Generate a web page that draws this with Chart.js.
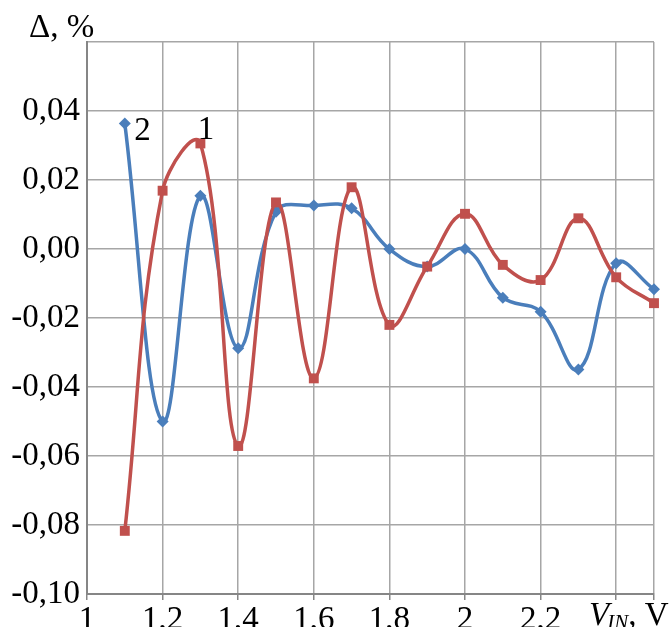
<!DOCTYPE html>
<html>
<head>
<meta charset="utf-8">
<script src="https://cdn.jsdelivr.net/npm/chart.js@4/dist/chart.umd.min.js"></script>
<style>
    html, body { margin: 0; padding: 0; background: #fff; }
    #wrap { width: 670px; height: 627px; }
</style>
</head>
<body>
<div id="wrap"><canvas id="delta-chart" width="670" height="627"></canvas></div>
<script>
/* Δ, % vs V_IN — two curves, Excel-style smoothed lines */

const vIn     = [1.1, 1.2, 1.3, 1.4, 1.5, 1.6, 1.7, 1.8, 1.9, 2.0, 2.1, 2.2, 2.3, 2.4, 2.5];
const curve1  = [-0.0817, 0.0169, 0.0306, -0.0571, 0.0135, -0.0375, 0.0179, -0.0220, -0.0051, 0.0102, -0.0046, -0.0090, 0.0089, -0.0082, -0.0157];
const curve2  = [0.0364, -0.0500, 0.0154, -0.0288, 0.0108, 0.0126, 0.0118, 0.0000, -0.0051, 0.0000, -0.0141, -0.0182, -0.0349, -0.0041, -0.0117];

const xTicks      = [1, 1.2, 1.4, 1.6, 1.8, 2, 2.2, 2.4, 2.5];
const xTickLabels = ['1', '1,2', '1,4', '1,6', '1,8', '2', '2,2', '', ''];
const yTicks      = [-0.10, -0.08, -0.06, -0.04, -0.02, 0, 0.02, 0.04, 0.06];
const yTickLabels = ['-0,10', '-0,08', '-0,06', '-0,04', '-0,02', '0,00', '0,02', '0,04', ''];

// curve numbers placed next to the curves (data coords)
const curveTags = [
    { text: '2', x: 1.125, y: 0.0350 },
    { text: '1', x: 1.293, y: 0.0355 }
];

const RED   = '#C0504D';
const BLUE  = '#4A7EBB';
const GRID  = '#a6a6a6';
const AXIS  = '#868686';
const FONT  = '"Liberation Serif", "Times New Roman", serif';
const FS    = 33;

const pts = ys => vIn.map((x, i) => ({ x: x, y: ys[i] }));

const decorations = {
    id: 'decorations',
    afterDraw(chart) {
        const ctx = chart.ctx;
        const xs  = chart.scales.x;
        const ys  = chart.scales.y;
        ctx.save();
        ctx.fillStyle = '#000';
        ctx.textBaseline = 'alphabetic';

        // curve numbers
        ctx.font = FS + 'px ' + FONT;
        ctx.textAlign = 'left';
        curveTags.forEach(t => {
            ctx.fillText(t.text, xs.getPixelForValue(t.x), ys.getPixelForValue(t.y) + 12);
        });

        // y title
        ctx.fillText('Δ, %', 29, 37);

        // x title: V_IN, V
        const base = 625;
        let x = 589;
        ctx.font = 'italic ' + FS + 'px ' + FONT;
        ctx.fillText('V', x, base);
        x += ctx.measureText('V').width - 2;
        ctx.font = 'italic 21px ' + FONT;
        ctx.fillText('IN', x, base + 4);
        x += ctx.measureText('IN').width;
        ctx.font = FS + 'px ' + FONT;
        ctx.fillText(', V', x, base);
        ctx.restore();
    }
};

new Chart(document.getElementById('delta-chart'), {
    type: 'line',
    data: {
        datasets: [
            {
                label: '1',
                data: pts(curve1),
                borderColor: RED,
                backgroundColor: RED,
                borderWidth: 3.5,
                pointStyle: 'rect',
                pointRadius: 7,
                pointBorderWidth: 0,
                tension: 0.4,
                fill: false
            },
            {
                label: '2',
                data: pts(curve2),
                borderColor: BLUE,
                backgroundColor: BLUE,
                borderWidth: 3.5,
                pointStyle: 'rectRot',
                pointRadius: 6,
                pointBorderWidth: 0,
                tension: 0.4,
                fill: false
            }
        ]
    },
    options: {
        responsive: false,
        animation: false,
        clip: false,
        layout: { padding: { left: 0, top: 42, right: 16, bottom: 0 } },
        plugins: {
            legend:  { display: false },
            tooltip: { enabled: false }
        },
        scales: {
            x: {
                type: 'linear',
                min: 1,
                max: 2.5,
                afterBuildTicks: s => { s.ticks = xTicks.map(v => ({ value: v })); },
                afterFit: s => { s.height = 33; },
                ticks: {
                    autoSkip: false,
                    maxRotation: 0,
                    padding: 1,
                    color: '#000',
                    font: { family: FONT, size: FS },
                    callback: (v, i) => xTickLabels[i]
                },
                grid: { color: GRID, lineWidth: 1.5, tickLength: 6, tickColor: AXIS },
                border: { color: AXIS, width: 2 }
            },
            y: {
                type: 'linear',
                min: -0.10,
                max: 0.06,
                afterBuildTicks: s => { s.ticks = yTicks.map(v => ({ value: v })); },
                afterFit: s => { s.width = 87; },
                ticks: {
                    autoSkip: false,
                    padding: 7,
                    color: '#000',
                    font: { family: FONT, size: FS },
                    callback: (v, i) => yTickLabels[i]
                },
                grid: { color: GRID, lineWidth: 1.5, drawTicks: false },
                border: { color: AXIS, width: 2 }
            }
        }
    },
    plugins: [decorations]
});
</script>
</body>
</html>
